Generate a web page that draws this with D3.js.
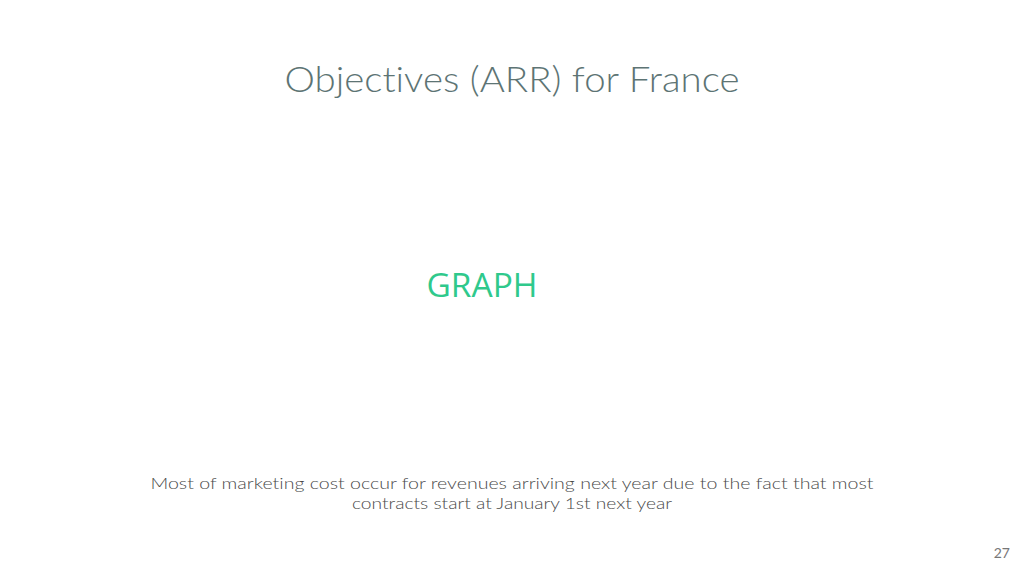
<!DOCTYPE html>
<html>
<head>
<meta charset="utf-8">
<script src="https://cdn.jsdelivr.net/npm/d3@7"></script>
<style>
  html, body { margin: 0; padding: 0; background: #fff; }
  svg { display: block; }
  text { font-variant-ligatures: none; }
</style>
</head>
<body>
<div id="slide"></div>
<script>
const titleText = "Objectives (ARR) for France";
const placeholderText = "GRAPH";
const noteLines = [
  "Most of marketing cost occur for revenues arriving next year due to the fact that most",
  "contracts start at January 1st next year"
];
const pageNumber = "27";

const width = 1024, height = 576;

const svg = d3.select("#slide").append("svg")
  .attr("width", width)
  .attr("height", height)
  .attr("viewBox", `0 0 ${width} ${height}`);

svg.append("rect")
  .attr("width", width)
  .attr("height", height)
  .attr("fill", "#fff");

// title
svg.append("text")
  .attr("x", 512)
  .attr("y", 92)
  .attr("text-anchor", "middle")
  .attr("font-family", "Lato, 'Open Sans', sans-serif")
  .attr("font-weight", 300)
  .attr("font-size", 35)
  .attr("fill", "#5d7474")
  .attr("textLength", 455)
  .attr("lengthAdjust", "spacingAndGlyphs")
  .text(titleText);

// placeholder where the chart should go
svg.append("text")
  .attr("x", 482)
  .attr("y", 297)
  .attr("text-anchor", "middle")
  .attr("font-family", "'Open Sans', sans-serif")
  .attr("font-size", 33)
  .attr("fill", "#2fc98c")
  .attr("textLength", 111)
  .attr("lengthAdjust", "spacingAndGlyphs")
  .text(placeholderText);

// note under the chart
const noteWidths = [723, 320];
const y = d3.scalePoint().domain(d3.range(noteLines.length)).range([489, 509]);
svg.append("g")
  .selectAll("text")
  .data(noteLines)
  .join("text")
  .attr("x", 512)
  .attr("y", (d, i) => y(i))
  .attr("text-anchor", "middle")
  .attr("font-family", "Lato, 'Open Sans', sans-serif")
  .attr("font-weight", 300)
  .attr("font-size", 16)
  .attr("fill", "#4a4a4a")
  .attr("textLength", (d, i) => noteWidths[i])
  .attr("lengthAdjust", "spacingAndGlyphs")
  .text(d => d);

// page number
svg.append("text")
  .attr("x", 1010)
  .attr("y", 558)
  .attr("text-anchor", "end")
  .attr("font-family", "Lato, 'Open Sans', sans-serif")
  .attr("font-size", 14)
  .attr("fill", "#777")
  .text(pageNumber);
</script>
</body>
</html>
